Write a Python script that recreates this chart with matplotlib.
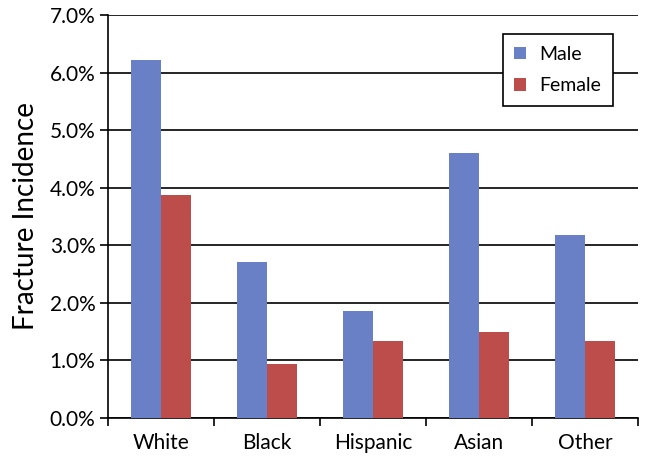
import numpy as np
import matplotlib.pyplot as plt
from matplotlib.ticker import FuncFormatter, FixedLocator

# Data
groups = ['White', 'Black', 'Hispanic', 'Asian', 'Other']
male = [6.22, 2.71, 1.86, 4.61, 3.18]
female = [3.88, 0.94, 1.34, 1.49, 1.34]
series_names = ['Male', 'Female']
colors = ['#6A80C6', '#BD4D4B']

plt.rcParams['font.family'] = ['Lato', 'DejaVu Sans']

fig = plt.figure(figsize=(6.62, 4.68), dpi=100)
ax = fig.add_axes([108 / 662, 50 / 468, 530 / 662, 403 / 468])

x = np.arange(len(groups))
w = 0.285
ax.bar(x - w / 2, male, w, color=colors[0], label=series_names[0], zorder=3)
ax.bar(x + w / 2, female, w, color=colors[1], label=series_names[1], zorder=3)

ax.set_xlim(-0.5, len(groups) - 0.5)
ax.set_ylim(0, 7)
ax.set_yticks(np.arange(0, 7.01, 1))
ax.yaxis.set_major_formatter(FuncFormatter(lambda v, p: f'{v:.1f}%'))
ax.yaxis.grid(True, color='black', linewidth=1.2, zorder=0)

ax.set_xticks(x)
ax.set_xticklabels(groups, fontsize=15)
ax.tick_params(axis='x', length=0, pad=11)
ax.xaxis.set_minor_locator(FixedLocator(np.arange(-0.5, len(groups), 1)))
ax.tick_params(axis='x', which='minor', length=6, width=1.2, direction='out')
ax.tick_params(axis='y', length=6, width=1.2, labelsize=15, pad=3)

for side in ['top', 'right']:
    ax.spines[side].set_visible(False)
ax.spines['left'].set_linewidth(1.2)
ax.spines['bottom'].set_linewidth(1.2)

ax.set_ylabel('Fracture Incidence', fontsize=20, labelpad=8)

leg = ax.legend(loc='upper right', bbox_to_anchor=(0.953, 0.953), borderaxespad=0,
                fontsize=14, frameon=True, fancybox=False, edgecolor='black',
                framealpha=1, handlelength=0.6, handleheight=0.6,
                handletextpad=0.7, borderpad=0.6, labelspacing=0.75)
leg.get_frame().set_linewidth(1.2)
leg.set_zorder(5)

fig.savefig('out.png', dpi=100)
